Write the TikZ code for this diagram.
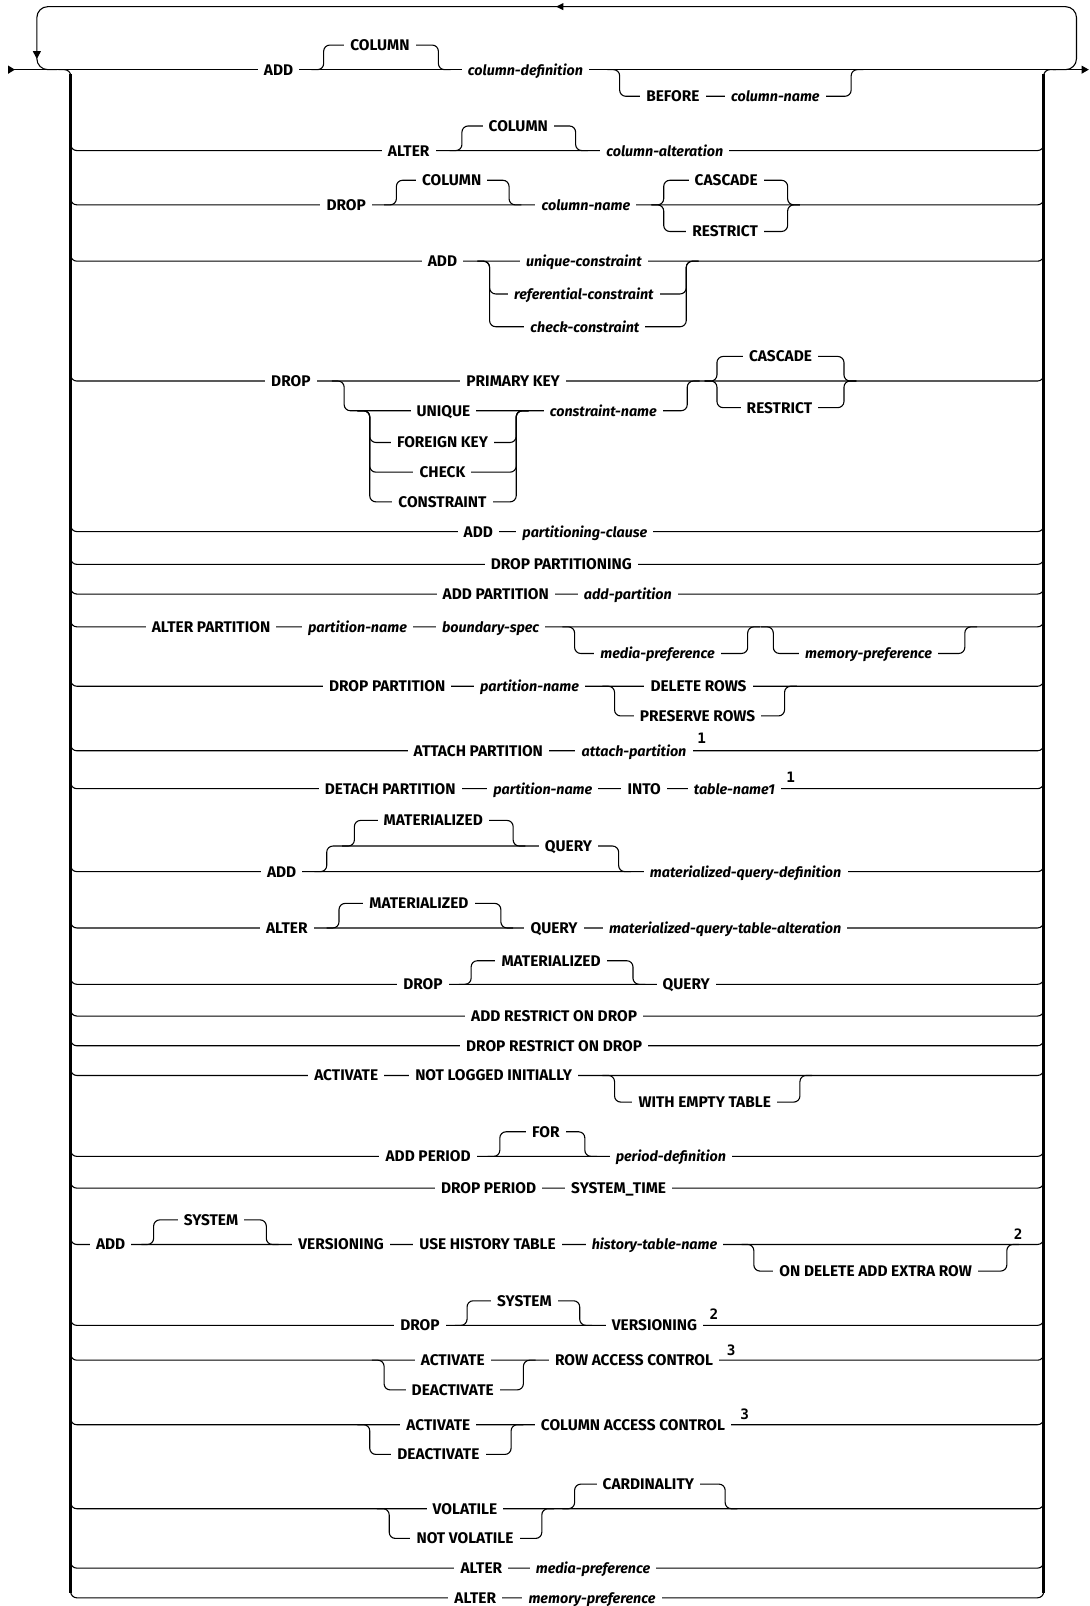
\documentclass[tikz,border=0pt]{standalone}
\usepackage{fontspec}
\setmainfont{Fira Sans}
\setmonofont{DejaVu Sans Mono}
\newcommand\brk[4]{\draw[ln] ({#1-12},#3) -- (#1,#3) -- (#1,#4) -- (#2,#4) -- (#2,#3) -- ({#2+12},#3);}
\newcommand\rowln[1]{\draw[ln] (69,{#1-14}) -- (69,#1) -- (1019,#1) -- (1019,{#1-14});}
\begin{document}
\begin{tikzpicture}[x=0.75pt,y=-0.75pt,
  ln/.style={line width=0.8pt, rounded corners=4.5pt},
  barln/.style={line width=1.8pt},
  kw/.style={fill=white, inner xsep=4.5pt, inner ysep=1pt, anchor=base, yshift=-4pt, font=\fontsize{11.3}{13}\selectfont\bfseries},
  var/.style={kw, font=\fontsize{10.5}{13}\selectfont\bfseries\itshape},
  note/.style={font=\fontsize{10.5}{11}\selectfont\ttfamily\bfseries, inner sep=0pt, anchor=center}]
\useasboundingbox (0,0) rectangle (1064,1568);
% ---- main line, loop, arrows
\draw[ln] (14,68) -- (1056,68);
\draw[ln, rounded corners=8pt] (1028,68) -- (1051,68) -- (1051,6.5) -- (36,6.5) -- (36,68) -- (56,68);
\fill (8,64) -- (14.5,68) -- (8,72) -- cycle;
\fill (1056,64) -- (1063,68) -- (1056,72) -- cycle;
\fill (550,3) -- (543,6.5) -- (550,10) -- cycle;
\fill (32,50) -- (36,57.5) -- (40,50) -- cycle;
% ---- bars
\draw[ln] (57,68) -- (69,68) -- (69,82);
\draw[ln] (1019,82) -- (1019,68) -- (1031,68);
\draw[barln] (69,72) -- (69,1555);
\draw[barln] (1019,72) -- (1019,1555);
% ---- rows
\foreach \yy in {147,200,255,372,519,551,580,612,670,733,770,851,906,961,992,1021,1050,1129,1160,1215,1294,1328,1391,1473,1531,1560} {\rowln{\yy}}
% row 1
\brk{316}{428}{68}{44}
\brk{605}{831}{68}{94}
% row 2
\brk{451}{562}{147}{123}
% row 3
\brk{387}{497}{200}{176}
\brk{648}{769}{200}{176}
\brk{648}{769}{200}{226}
% row 4
\brk{478}{670}{255}{287}
\brk{478}{670}{255}{319}
% row 5
\brk{336}{671}{372}{401}
\brk{361}{504}{401}{432}
\brk{361}{504}{401}{461}
\brk{361}{504}{401}{490}
\brk{700}{824}{372}{348}
\brk{700}{824}{372}{398}
% row 9
\brk{561}{730}{612}{638}
\brk{755}{942}{612}{638}
% row 10
\brk{600}{766}{670}{699}
% row 13
\brk{319}{604}{851}{826}
\brk{346}{501}{826}{801}
% row 14
\brk{331}{489}{906}{882}
% row 15
\brk{460}{618}{961}{938}
% row 18
\brk{600}{781}{1050}{1076}
% row 19
\brk{488}{571}{1129}{1105}
% row 21
\brk{150}{260}{1215}{1191}
\brk{736}{983}{1215}{1241}
% row 22
\brk{456}{566}{1294}{1270}
% row 23
\brk{375}{511}{1328}{1357}
% row 24
\brk{361}{499}{1391}{1420}
% row 25
\brk{380}{529}{1473}{1502}
\brk{561}{708}{1473}{1449}
% ---- texts
\node[kw] (a1) at (272,68) {ADD};
\node[kw] (a2) at (371,44) {COLUMN};
\node[var] (a3) at (513,68) {column-definition};
\node[kw] (a4) at (657,94) {BEFORE};
\node[var] (a5) at (757,94) {column-name};
\node[kw] (b1) at (399,147) {ALTER};
\node[kw] (b2) at (506,123) {COLUMN};
\node[var] (b3) at (649,147) {column-alteration};
\node[kw] (c1) at (338,200) {DROP};
\node[kw] (c2) at (441,176) {COLUMN};
\node[var] (c3) at (572,200) {column-name};
\node[kw] (c4) at (709,176) {CASCADE};
\node[kw] (c5) at (708,226) {RESTRICT};
\node[kw] (d1) at (432,255) {ADD};
\node[var] (d2) at (570,255) {unique-constraint};
\node[var] (d3) at (570,287) {referential-constraint};
\node[var] (d4) at (571,319) {check-constraint};
\node[kw] (e1) at (284,372) {DROP};
\node[kw] (e2) at (501,372) {PRIMARY KEY};
\node[kw] (e3) at (433,401) {UNIQUE};
\node[kw] (e4) at (432,432) {FOREIGN KEY};
\node[kw] (e5) at (432,461) {CHECK};
\node[kw] (e6) at (432,490) {CONSTRAINT};
\node[var] (e7) at (589,401) {constraint-name};
\node[kw] (e8) at (762,348) {CASCADE};
\node[kw] (e9) at (761,398) {RESTRICT};
\node[kw] (f1) at (467,519) {ADD};
\node[var] (f2) at (571,519) {partitioning-clause};
\node[kw] (g1) at (548,551) {DROP PARTITIONING};
\node[kw] (h1) at (484,580) {ADD PARTITION};
\node[var] (h2) at (613,580) {add-partition};
\node[kw] (i1) at (206,612) {ALTER PARTITION};
\node[var] (i2) at (349,612) {partition-name};
\node[var] (i3) at (479,612) {boundary-spec};
\node[var] (i4) at (642,638) {media-preference};
\node[var] (i5) at (848,638) {memory-preference};
\node[kw] (j1) at (378,670) {DROP PARTITION};
\node[var] (j2) at (517,670) {partition-name};
\node[kw] (j3) at (682,670) {DELETE ROWS};
\node[kw] (j4) at (681,699) {PRESERVE ROWS};
\node[kw] (k1) at (467,733) {ATTACH PARTITION};
\node[var] (k2) at (619,733) {attach-partition};
\node[note] (k3) at (685,721) {1};
\node[kw] (l1) at (381,770) {DETACH PARTITION};
\node[var] (l2) at (530,770) {partition-name};
\node[kw] (l3) at (629,770) {INTO};
\node[var] (l4) at (717,770) {table-name1};
\node[note] (l5) at (772,759) {1};
\node[kw] (m1) at (275,851) {ADD};
\node[kw] (m2) at (423,801) {MATERIALIZED};
\node[kw] (m3) at (555,826) {QUERY};
\node[var] (m4) at (728,851) {materialized-query-definition};
\node[kw] (n1) at (280,906) {ALTER};
\node[kw] (n2) at (409,882) {MATERIALIZED};
\node[kw] (n3) at (541,906) {QUERY};
\node[var] (n4) at (708,906) {materialized-query-table-alteration};
\node[kw] (o1) at (413,961) {DROP};
\node[kw] (o2) at (538,938) {MATERIALIZED};
\node[kw] (o3) at (670,961) {QUERY};
\node[kw] (p1) at (541,992) {ADD RESTRICT ON DROP};
\node[kw] (q1) at (541,1021) {DROP RESTRICT ON DROP};
\node[kw] (r1) at (338,1050) {ACTIVATE};
\node[kw] (r2) at (482,1050) {NOT LOGGED INITIALLY};
\node[kw] (r3) at (688,1076) {WITH EMPTY TABLE};
\node[kw] (s1) at (418,1129) {ADD PERIOD};
\node[kw] (s2) at (533,1105) {FOR};
\node[var] (s3) at (655,1129) {period-definition};
\node[kw] (t1) at (477,1160) {DROP PERIOD};
\node[kw] (t2) at (604,1160) {SYSTEM\_TIME};
\node[kw] (u1) at (108,1215) {ADD};
\node[kw] (u2) at (206,1191) {SYSTEM};
\node[kw] (u3) at (333,1215) {VERSIONING};
\node[kw] (u4) at (476,1215) {USE HISTORY TABLE};
\node[var] (u5) at (639,1215) {history-table-name};
\node[kw] (u6) at (855,1241) {ON DELETE ADD EXTRA ROW};
\node[note] (u7) at (994,1205) {2};
\node[kw] (v1) at (410,1294) {DROP};
\node[kw] (v2) at (512,1270) {SYSTEM};
\node[kw] (v3) at (639,1294) {VERSIONING};
\node[note] (v4) at (697,1283) {2};
\node[kw] (w1) at (442,1328) {ACTIVATE};
\node[kw] (w2) at (442,1357) {DEACTIVATE};
\node[kw] (w3) at (619,1328) {ROW ACCESS CONTROL};
\node[note] (w4) at (714,1318) {3};
\node[kw] (x1) at (428,1391) {ACTIVATE};
\node[kw] (x2) at (428,1420) {DEACTIVATE};
\node[kw] (x3) at (618,1391) {COLUMN ACCESS CONTROL};
\node[note] (x4) at (727,1381) {3};
\node[kw] (y1) at (454,1473) {VOLATILE};
\node[kw] (y2) at (454,1502) {NOT VOLATILE};
\node[kw] (y3) at (633,1449) {CARDINALITY};
\node[kw] (z1) at (470,1531) {ALTER};
\node[var] (z2) at (579,1531) {media-preference};
\node[kw] (z3) at (464,1560) {ALTER};
\node[var] (z4) at (578,1560) {memory-preference};
\end{tikzpicture}
\end{document}
